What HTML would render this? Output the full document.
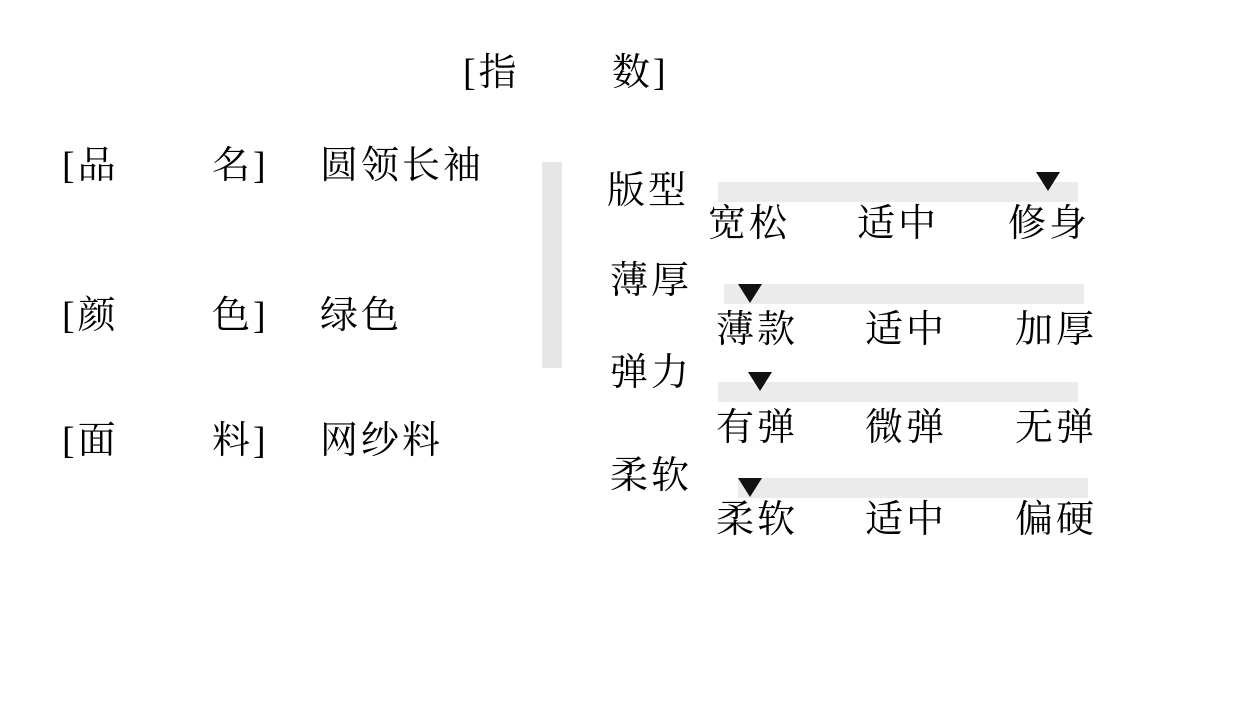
<!DOCTYPE html>
<html><head><meta charset="utf-8"><style>
body{margin:0;width:1240px;height:710px;background:#fff;position:relative;overflow:hidden}
.t{position:absolute;font-family:"Liberation Serif","Noto Serif CJK SC",serif;font-size:38px;line-height:38px;color:#000;white-space:nowrap;letter-spacing:3px}
.b{position:absolute;background:#ebebeb;height:20px}
.tri{position:absolute;width:0;height:0;border-left:12px solid transparent;border-right:12px solid transparent;border-top:19px solid #111}
</style></head><body>
<div class="t" style="left:463px;top:54px">[指</div>
<div class="t" style="left:612px;top:54px">数]</div>

<div class="t" style="left:62px;top:147px">[品</div>
<div class="t" style="left:212px;top:147px">名]</div>
<div class="t" style="left:320px;top:147px">圆领长袖</div>
<div class="t" style="left:62px;top:297px">[颜</div>
<div class="t" style="left:212px;top:297px">色]</div>
<div class="t" style="left:320px;top:297px">绿色</div>
<div class="t" style="left:62px;top:422px">[面</div>
<div class="t" style="left:212px;top:422px">料]</div>
<div class="t" style="left:320px;top:422px">网纱料</div>

<div style="position:absolute;left:542px;top:162px;width:20px;height:206px;background:#e6e6e6"></div>

<div class="t" style="left:607px;top:172px">版型</div>
<div class="b" style="left:718px;top:182px;width:360px"></div>
<div class="tri" style="left:1036px;top:172px"></div>
<div class="t" style="left:708px;top:205px">宽松</div>
<div class="t" style="left:857px;top:205px">适中</div>
<div class="t" style="left:1008px;top:205px">修身</div>

<div class="t" style="left:610px;top:262px">薄厚</div>
<div class="b" style="left:724px;top:284px;width:360px"></div>
<div class="tri" style="left:738px;top:284px"></div>
<div class="t" style="left:716px;top:311px">薄款</div>
<div class="t" style="left:865px;top:311px">适中</div>
<div class="t" style="left:1015px;top:311px">加厚</div>

<div class="t" style="left:610px;top:354px">弹力</div>
<div class="b" style="left:718px;top:382px;width:360px"></div>
<div class="tri" style="left:748px;top:372px"></div>
<div class="t" style="left:716px;top:409px">有弹</div>
<div class="t" style="left:865px;top:409px">微弹</div>
<div class="t" style="left:1015px;top:409px">无弹</div>

<div class="t" style="left:610px;top:457px">柔软</div>
<div class="b" style="left:738px;top:478px;width:350px"></div>
<div class="tri" style="left:738px;top:478px"></div>
<div class="t" style="left:716px;top:501px">柔软</div>
<div class="t" style="left:865px;top:501px">适中</div>
<div class="t" style="left:1015px;top:501px">偏硬</div>
</body></html>
